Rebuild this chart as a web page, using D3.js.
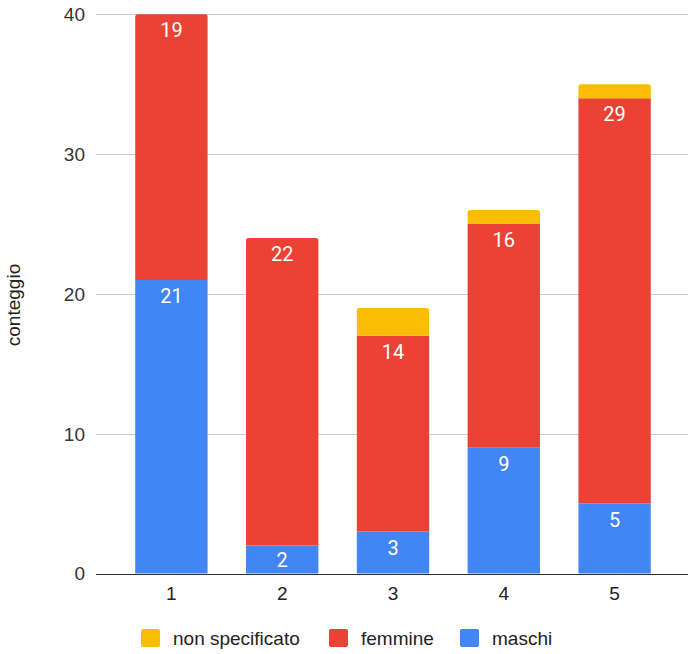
<!DOCTYPE html>
<html>
<head>
<meta charset="utf-8">
<script src="https://cdn.jsdelivr.net/npm/d3@7"></script>
<style>
  html, body { margin: 0; padding: 0; background: #fff; }
  svg { display: block; }
</style>
</head>
<body>
<svg id="chart" width="692" height="654"></svg>
<script>
const categories = ["1", "2", "3", "4", "5"];
const maschi = [21, 2, 3, 9, 5];
const femmine = [19, 22, 14, 16, 29];
const nonSpecificato = [0, 0, 2, 1, 1];
const yTicks = [0, 10, 20, 30, 40];
const seriesNames = ["maschi", "femmine", "non specificato"];
const seriesColors = ["#4285f4", "#ea4335", "#fbbc04"];
const legendOrder = ["non specificato", "femmine", "maschi"];
const yTitle = "conteggio";

const svg = d3.select("#chart");
const axisFont = "'Liberation Sans', Arial, sans-serif";
const labelFont = "Roboto, 'Noto Sans', sans-serif";

const x = d3.scaleBand().domain(categories).range([97, 689]).paddingInner(0.347).paddingOuter(0.345);
const y = d3.scaleLinear().domain([0, 40]).range([573.5, 14.3]);
const color = d3.scaleOrdinal().domain(seriesNames).range(seriesColors);

// gridlines
svg.append("g").selectAll("line").data(yTicks.filter(d => d !== 0)).join("line")
  .attr("x1", 96).attr("x2", 688)
  .attr("y1", d => Math.round(y(d)) + 0.5).attr("y2", d => Math.round(y(d)) + 0.5)
  .attr("stroke", "#cccccc").attr("stroke-width", 1);

// y tick labels
svg.append("g").selectAll("text").data(yTicks).join("text")
  .attr("x", 85).attr("y", d => y(d))
  .attr("text-anchor", "end").attr("dy", "0.36em")
  .attr("font-family", axisFont).attr("font-size", 19).attr("fill", "#333")
  .text(d => d);

// y title
svg.append("text")
  .attr("transform", "translate(20,305) rotate(-90)")
  .attr("text-anchor", "middle")
  .attr("font-family", axisFont).attr("font-size", 19).attr("fill", "#222")
  .text(yTitle);

// stack data
const rows = categories.map((c, i) => ({
  cat: c, "maschi": maschi[i], "femmine": femmine[i], "non specificato": nonSpecificato[i]
}));
const stack = d3.stack().keys(seriesNames)(rows);

function topIndexFor(i) {
  let top = -1;
  stack.forEach((s, k) => { if (s[i][1] - s[i][0] > 0) top = k; });
  return top;
}

function segPath(x0, w, yTop, yBot, rounded) {
  const r = rounded ? 2.5 : 0;
  return `M${x0},${yBot}L${x0},${yTop + r}` +
    (r ? `Q${x0},${yTop} ${x0 + r},${yTop}` : "") +
    `L${x0 + w - r},${yTop}` +
    (r ? `Q${x0 + w},${yTop} ${x0 + w},${yTop + r}` : "") +
    `L${x0 + w},${yBot}Z`;
}

const gBars = svg.append("g");
stack.forEach((s, k) => {
  gBars.append("g").selectAll("path").data(s.map((d, i) => ({ d, i })).filter(o => o.d[1] - o.d[0] > 0)).join("path")
    .attr("d", o => segPath(x(categories[o.i]), x.bandwidth(), y(o.d[1]), y(o.d[0]), topIndexFor(o.i) === k))
    .attr("fill", color(s.key));
});

// value labels (maschi, femmine)
stack.forEach((s, k) => {
  if (s.key === "non specificato") return;
  gBars.append("g").selectAll("text").data(s.map((d, i) => ({ d, i }))).join("text")
    .attr("x", o => x(categories[o.i]) + x.bandwidth() / 2)
    .attr("y", o => Math.min(y(o.d[1]) + 23, y(o.d[0]) - 7))
    .attr("text-anchor", "middle")
    .attr("font-family", labelFont).attr("font-size", 20).attr("fill", "#ffffff")
    .text(o => o.d[1] - o.d[0]);
});

// zero baseline
svg.append("line")
  .attr("x1", 96).attr("x2", 688)
  .attr("y1", Math.round(y(0)) + 0.5).attr("y2", Math.round(y(0)) + 0.5)
  .attr("stroke", "#333333").attr("stroke-width", 1.2);

// x labels
svg.append("g").selectAll("text").data(categories).join("text")
  .attr("x", d => x(d) + x.bandwidth() / 2).attr("y", 600)
  .attr("text-anchor", "middle")
  .attr("font-family", axisFont).attr("font-size", 19).attr("fill", "#222")
  .text(d => d);

// legend
const legendX = [141, 329, 460];
const lg = svg.append("g");
legendOrder.forEach((name, i) => {
  lg.append("rect").attr("x", legendX[i]).attr("y", 629).attr("width", 19).attr("height", 18)
    .attr("rx", 2).attr("fill", color(name));
  lg.append("text").attr("x", legendX[i] + 32).attr("y", 638).attr("dy", "0.35em")
    .attr("font-family", axisFont).attr("font-size", 19).attr("fill", "#222")
    .text(name);
});
</script>
</body>
</html>
